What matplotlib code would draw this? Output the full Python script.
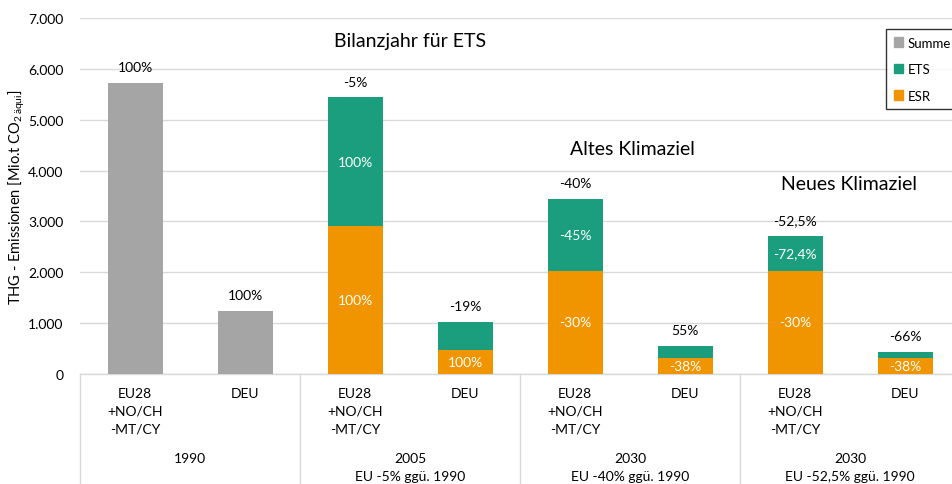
import matplotlib
matplotlib.use("Agg")
import numpy as np
import matplotlib.pyplot as plt
from matplotlib.lines import Line2D
from matplotlib.patches import Patch
from matplotlib.transforms import blended_transform_factory

plt.rcParams["font.family"] = ["Lato", "DejaVu Sans"]
plt.rcParams["mathtext.fontset"] = "custom"
plt.rcParams["mathtext.rm"] = "Lato"

# ── data ─────────────────────────────────────────────────────────────────────
categories = ["EU28\n+NO/CH\n-MT/CY", "DEU"] * 4
groups = ["1990", "2005\nEU -5% ggü. 1990", "2030\nEU -40% ggü. 1990",
          "2030\nEU -52,5% ggü. 1990"]
summe = [5720, 1240, 0, 0, 0, 0, 0, 0]
esr = [0, 0, 2910, 470, 2030, 310, 2030, 310]
ets = [0, 0, 2530, 550, 1410, 240, 680, 120]
top_labels = ["100%", "100%", "-5%", "-19%", "-40%", "55%", "-52,5%", "-66%"]
ets_labels = ["", "", "100%", "", "-45%", "", "-72,4%", ""]
esr_labels = ["", "", "100%", "100%", "-30%", "-38%", "-30%", "-38%"]
notes = ["Bilanzjahr für ETS", "Altes Klimaziel", "Neues Klimaziel"]

C_SUM, C_ETS, C_ESR = "#A5A5A5", "#1A9E7E", "#F09400"
GRID = "#D9D9D9"

W, H = 953, 485
fig = plt.figure(figsize=(W / 100, H / 100), dpi=100)
ax = fig.add_axes([80 / W, 1 - 375 / H, 880 / W, 356 / H])

x = np.arange(len(categories))
bw = 0.5
summe, esr, ets = np.array(summe), np.array(esr), np.array(ets)
ax.bar(x, summe, bw, color=C_SUM, zorder=3)
ax.bar(x, esr, bw, color=C_ESR, zorder=3)
ax.bar(x, ets, bw, bottom=esr, color=C_ETS, zorder=3)

ax.set_xlim(-0.5, 7.5)
ax.set_ylim(0, 7000)
ax.set_yticks(np.arange(0, 7001, 1000))
ax.set_yticklabels(["0"] + [f"{v:,}".replace(",", ".") for v in range(1000, 7001, 1000)],
                   fontsize=10)
ax.tick_params(axis="y", length=0, pad=12)
ax.set_xticks([])
ax.grid(axis="y", color=GRID, lw=1, zorder=0)
for s in ["top", "right", "left"]:
    ax.spines[s].set_visible(False)
ax.spines["bottom"].set_color(GRID)
ax.spines["bottom"].set_linewidth(1)
ax.set_ylabel(r"THG - Emissionen [Mio.t CO$_{\mathregular{2\,äqui}}$]", fontsize=10.5)
ax.yaxis.set_label_coords(-53 / 880, 0.5)

# value labels
totals = summe + esr + ets
for i in range(len(x)):
    ax.annotate(top_labels[i], (x[i], totals[i]), xytext=(0, 7),
                textcoords="offset points", ha="center", va="bottom", fontsize=10)
    if ets_labels[i]:
        ax.text(x[i], esr[i] + ets[i] / 2, ets_labels[i], ha="center", va="center",
                color="white", fontsize=10, zorder=4)
    if esr_labels[i]:
        ax.text(x[i], esr[i] / 2, esr_labels[i], ha="center", va="center",
                color="white", fontsize=10, zorder=4)

# annotations
ax.text(2.5, 6550, notes[0], ha="center", va="center", fontsize=14)
ax.text(4.52, 4430, notes[1], ha="center", va="center", fontsize=14)
ax.text(6.49, 3740, notes[2], ha="center", va="center", fontsize=14)

# category axis below the plot
tr = blended_transform_factory(ax.transData, ax.transAxes)
ph = 356.0
for i, c in enumerate(categories):
    ax.text(x[i], -13 / ph, c, transform=tr, ha="center", va="top",
            fontsize=10, linespacing=1.6)
for g, lab in enumerate(groups):
    ax.text(2 * g + 0.5, -78 / ph, lab, transform=tr, ha="center", va="top",
            fontsize=10, linespacing=1.6, clip_on=False)
for xs in [-0.5, 1.5, 3.5, 5.5]:
    ax.add_line(Line2D([xs, xs], [0, -115 / ph], transform=tr, color=GRID,
                       lw=1, clip_on=False))

handles = [Patch(color=C_SUM), Patch(color=C_ETS), Patch(color=C_ESR)]
leg = fig.legend(handles, ["Summe", "ETS", "ESR"], loc="upper left",
                 bbox_to_anchor=(879 / W, 1 - 23 / H), fontsize=9.5,
                 frameon=True, fancybox=False, edgecolor="black",
                 handlelength=0.7, handleheight=0.7, labelspacing=1.1,
                 handletextpad=0.4, borderpad=0.6)
leg.get_frame().set_linewidth(1)

fig.savefig("out.png", dpi=100)
